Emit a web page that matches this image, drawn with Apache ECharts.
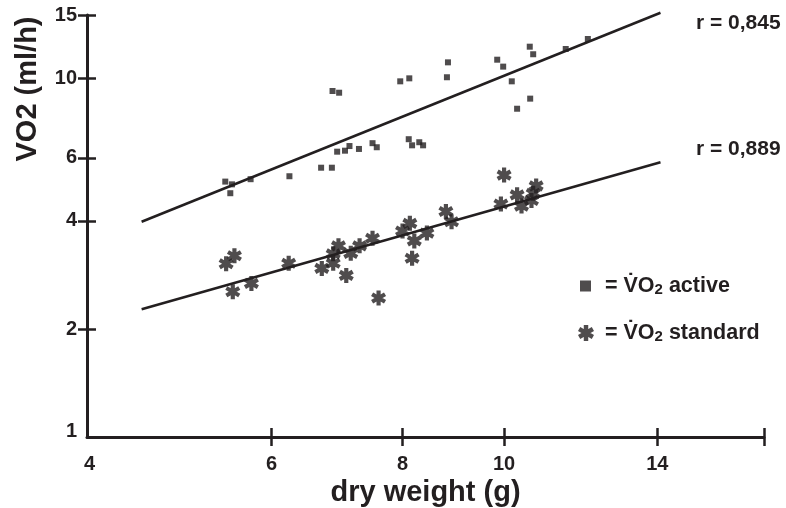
<!DOCTYPE html>
<html>
<head>
<meta charset="utf-8">
<script src="https://cdn.jsdelivr.net/npm/echarts@6/dist/echarts.min.js"></script>
<style>html,body{margin:0;padding:0;background:#fff}#c{width:786px;height:508px}</style>
</head>
<body>
<div id="c"></div>
<script>
// ---- data (dry weight g, VO2 ml/h) ----
const activeX = [5.42,5.50,5.48,5.73,6.24,6.69,6.85,6.86,6.96,6.93,7.05,7.12,7.27,7.49,7.56,7.96,8.12,8.11,8.17,8.30,8.37,8.82,8.84,9.85,9.98,10.17,10.29,10.59,10.58,10.66,11.45,12.02];
const activeY = [5.15,5.06,4.78,5.23,5.33,5.63,5.63,9.21,9.11,6.24,6.28,6.47,6.35,6.59,6.42,9.80,9.99,6.76,6.50,6.63,6.50,10.06,11.07,11.26,10.77,9.80,8.22,8.77,12.24,11.66,12.06,12.86];
const standardX = [5.43,5.53,5.51,5.74,6.23,6.70,6.87,6.87,6.95,7.07,7.14,7.28,7.49,7.59,8.00,8.13,8.21,8.44,8.17,8.80,8.91,10.00,9.93,10.29,10.39,10.62,10.66,10.73];
const standardY = [3.04,3.20,2.54,2.68,3.05,2.95,3.05,3.24,3.41,2.82,3.25,3.41,3.58,2.44,3.75,3.94,3.52,3.70,3.15,4.25,3.98,5.37,4.46,4.73,4.40,4.56,4.78,5.01];
const fitActiveX = [4.51, 14.1];
const fitActiveY = [3.98, 15.22];
const fitStandardX = [4.51, 14.1];
const fitStandardY = [2.27, 5.83];
const rActive = 'r = 0,845';
const rStandard = 'r = 0,889';
const xLabelValues = [4, 6, 8, 10, 14];
const xTickValues = [6, 8, 10, 14, 17.7];
const yLabelValues = [1, 2, 4, 6, 10, 15];
const yTickValues = [2, 4, 6, 10, 15];

const zip = (a, b) => a.map((v, i) => [v, b[i]]);
const INK = '#231f20';
const FONT = "'Liberation Sans', Arial, sans-serif";

// six-armed asterisk path
function starPath() {
  const w = 0.28; let d = '';
  [90, 30, -30].forEach(a => {
    const r = a * Math.PI / 180;
    const dx = Math.cos(r), dy = Math.sin(r), px = -dy * w, py = dx * w;
    const p = [[dx + px, dy + py], [-dx + px, -dy + py], [-dx - px, -dy - py], [dx - px, dy - py]]
      .map(q => (q[0] * 10 + 10).toFixed(3) + ',' + (q[1] * 10 + 10).toFixed(3));
    d += 'M' + p[0] + 'L' + p[1] + 'L' + p[2] + 'L' + p[3] + 'Z';
  });
  return 'path://' + d;
}
const STAR = starPath();

const chart = echarts.init(document.getElementById('c'), null, {renderer: 'canvas'});
const labelStyle = {color: INK, fontFamily: FONT, fontWeight: 'bold', fontSize: 20};
const legendRich = {
  a: {color: INK, fontFamily: FONT, fontWeight: 'bold', fontSize: 21.5},
  s: {color: INK, fontFamily: FONT, fontWeight: 'bold', fontSize: 15, verticalAlign: 'bottom', padding: [6, 0, 0, 0]}
};
const hiddenLine = {show: true, lineStyle: {color: 'rgba(0,0,0,0)', width: 0}};
const option = {
  animation: false,
  backgroundColor: '#fff',
  grid: {left: 87, right: 22, top: 15, bottom: 71, containLabel: false, outerBoundsMode: 'none'},
  xAxis: [{
    type: 'log', logBase: 10, min: 4, max: 17.7, position: 'bottom',
    axisLine: {show: true, lineStyle: {color: INK, width: 3}},
    axisTick: {show: true, length: 9, lineStyle: {color: INK, width: 2.5}, customValues: xTickValues},
    axisLabel: Object.assign({
      customValues: xLabelValues, margin: 17,
      formatter: v => Math.round(v) === 4 ? '{first|4}' : String(Math.round(v)),
      rich: {first: Object.assign({padding: [0, 0, 0, 5]}, labelStyle)}
    }, labelStyle),
    splitLine: {show: false}, minorTick: {show: false},
    name: 'dry weight (g)', nameLocation: 'middle', nameGap: 40,
    nameTextStyle: {color: INK, fontFamily: FONT, fontWeight: 'bold', fontSize: 29}
  }, {
    type: 'log', logBase: 10, min: 4, max: 17.7, position: 'bottom', show: true,
    axisLine: hiddenLine,
    axisTick: {show: true, inside: true, length: 9, lineStyle: {color: INK, width: 2.5}, customValues: xTickValues},
    axisLabel: {show: false, customValues: xLabelValues}, splitLine: {show: false}
  }],
  yAxis: [{
    type: 'log', logBase: 10, min: 1, max: 15, position: 'left',
    axisLine: {show: true, lineStyle: {color: INK, width: 3}},
    axisTick: {show: true, length: 9, lineStyle: {color: INK, width: 2.5}, customValues: yTickValues},
    axisLabel: Object.assign({
      customValues: yLabelValues, margin: 10,
      formatter: v => Math.round(v) === 1 ? '{first|1}' : String(Math.round(v)),
      rich: {first: Object.assign({padding: [0, 0, 11, 0]}, labelStyle)}
    }, labelStyle),
    splitLine: {show: false}, minorTick: {show: false}
  }, {
    type: 'log', logBase: 10, min: 1, max: 15, position: 'left', show: true,
    axisLine: hiddenLine,
    axisTick: {show: true, inside: true, length: 9, lineStyle: {color: INK, width: 2.5}, customValues: yTickValues},
    axisLabel: {show: false, customValues: yLabelValues}, splitLine: {show: false}
  }],
  legend: [{
    data: ['active'], orient: 'vertical', left: 580, top: 275, padding: 0,
    itemWidth: 11, itemHeight: 11,
    formatter: () => '{a|= V\u0307O}{s|2}{a| active}',
    textStyle: {rich: legendRich, padding: [0, 0, 0, 9]}
  }, {
    data: ['standard'], orient: 'vertical', left: 578, top: 322, padding: 0,
    itemWidth: 16, itemHeight: 16,
    formatter: () => '{a|= V\u0307O}{s|2}{a| standard}',
    textStyle: {rich: legendRich, padding: [0, 0, 0, 6]}
  }],
  series: [{
    name: 'active', type: 'scatter', symbol: 'rect', symbolSize: 6,
    itemStyle: {color: INK}, data: zip(activeX, activeY)
  }, {
    name: 'standard', type: 'scatter', symbol: STAR, symbolSize: 15,
    itemStyle: {color: INK}, data: zip(standardX, standardY)
  }, {
    name: 'fit active', type: 'line', symbol: 'none', clip: false,
    lineStyle: {color: INK, width: 2.5}, data: zip(fitActiveX, fitActiveY)
  }, {
    name: 'fit standard', type: 'line', symbol: 'none', clip: false,
    lineStyle: {color: INK, width: 2.5}, data: zip(fitStandardX, fitStandardY)
  }, {
    name: 'tick helper', type: 'scatter', xAxisIndex: 1, yAxisIndex: 1,
    silent: true, symbolSize: 0, data: []
  }],
  graphic: [{
    type: 'text', x: 28, y: 89, rotation: Math.PI / 2,
    style: {text: 'VO2 (ml/h)', fill: INK, font: "bold 29px 'Liberation Sans', Arial, sans-serif", align: 'center', verticalAlign: 'middle'}
  }, {
    type: 'text', left: 696, top: 13,
    style: {text: rActive, fill: INK, font: "bold 21px 'Liberation Sans', Arial, sans-serif"}
  }, {
    type: 'text', left: 696, top: 139,
    style: {text: rStandard, fill: INK, font: "bold 21px 'Liberation Sans', Arial, sans-serif"}
  }]
};
chart.setOption(option);
</script>
</body>
</html>
